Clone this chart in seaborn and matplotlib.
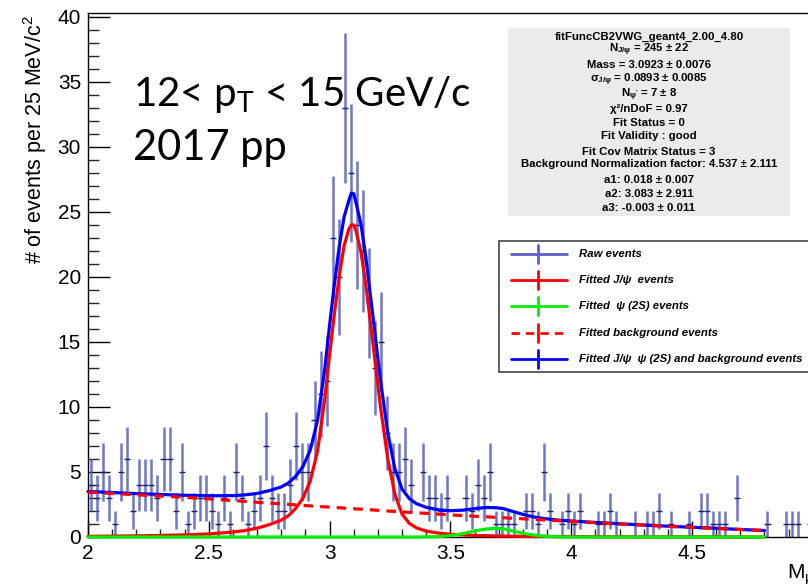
import numpy as np
import pandas as pd
import matplotlib
matplotlib.use("Agg")
import matplotlib.pyplot as plt
import seaborn as sns
from matplotlib.lines import Line2D
from matplotlib.patches import Rectangle
from matplotlib.ticker import MultipleLocator, FixedLocator

# ---------------- data ----------------
bin_low = 2.0
bin_width = 0.025
counts = [4, 3, 5, 3, 1, 5, 6, 2, 4, 4,
          4, 3, 6, 6, 2, 5, 1, 2, 3, 3,
          2, 1, 3, 1, 5, 3, 1, 2, 3, 7,
          3, 2, 2, 4, 7, 5, 5, 9, 11, 12,
          23, 20, 33, 28, 24, 22, 18, 13, 15, 8,
          5, 5, 6, 4, 0, 5, 3, 3, 2, 3,
          0, 0, 3, 2, 4, 3, 5, 1, 1, 1,
          1, 0, 2, 2, 1, 5, 2, 0, 1, 2,
          1, 2, 0, 0, 1, 1, 2, 1, 0, 0,
          1, 0, 1, 1, 2, 0, 1, 0, 0, 1,
          0, 2, 2, 1, 1, 1, 0, 3, 0, 0,
          0, 0, 1, 0, 0, 1, 1, 1, 0, 1]

curve_x = [2.00, 2.10, 2.20, 2.30, 2.40, 2.50, 2.60, 2.65, 2.70, 2.75,
           2.80, 2.83, 2.86, 2.89, 2.92, 2.95, 2.98, 3.00, 3.02, 3.04,
           3.06, 3.08, 3.09, 3.10, 3.11, 3.13, 3.15, 3.18, 3.21, 3.24,
           3.27, 3.30, 3.33, 3.36, 3.40, 3.45, 3.50, 3.55, 3.60, 3.65,
           3.69, 3.72, 3.75, 3.80, 3.85, 3.90, 3.95, 4.00, 4.10, 4.20,
           4.30, 4.40, 4.50, 4.60, 4.70, 4.80]
fit_jpsi = [0.05, 0.07, 0.09, 0.12, 0.16, 0.24, 0.38, 0.50, 0.68, 0.95,
            1.30, 1.65, 2.20, 3.00, 4.30, 6.60, 10.6, 14.0, 17.2, 20.1,
            22.4, 23.7, 24.0, 24.0, 23.5, 21.9, 19.4, 14.8, 10.1, 6.1,
            3.3, 1.75, 1.05, 0.70, 0.45, 0.30, 0.21, 0.16, 0.12, 0.10,
            0.08, 0.07, 0.06, 0.05, 0.04, 0.04, 0.03, 0.03, 0.02, 0.02,
            0.01, 0.01, 0.01, 0.01, 0.0, 0.0]
fit_psi2s = [0, 0, 0, 0, 0, 0, 0, 0, 0, 0,
             0, 0, 0, 0, 0, 0, 0, 0, 0, 0,
             0, 0, 0, 0, 0, 0, 0, 0, 0, 0,
             0, 0, 0, 0, 0.01, 0.03, 0.11, 0.25, 0.46, 0.62,
             0.66, 0.63, 0.50, 0.29, 0.13, 0.05, 0.01, 0.0, 0, 0,
             0, 0, 0, 0, 0, 0]
fit_bkg = [3.45, 3.35, 3.25, 3.15, 3.05, 2.93, 2.80, 2.74, 2.67, 2.61,
           2.55, 2.51, 2.47, 2.43, 2.39, 2.35, 2.32, 2.30, 2.27, 2.25,
           2.22, 2.20, 2.19, 2.18, 2.16, 2.14, 2.11, 2.08, 2.04, 2.00,
           1.97, 1.93, 1.90, 1.86, 1.82, 1.76, 1.70, 1.65, 1.60, 1.55,
           1.51, 1.48, 1.45, 1.40, 1.35, 1.30, 1.25, 1.20, 1.10, 1.00,
           0.91, 0.82, 0.74, 0.66, 0.58, 0.50]
fit_total = [3.50, 3.42, 3.34, 3.27, 3.21, 3.17, 3.18, 3.24, 3.35, 3.56,
             3.85, 4.16, 4.67, 5.43, 6.69, 8.95, 12.92, 16.30, 19.47, 22.35,
             24.62, 25.90, 26.45, 26.40, 25.66, 24.04, 21.51, 16.88, 12.14, 8.10,
             5.27, 3.68, 2.95, 2.56, 2.28, 2.09, 2.02, 2.06, 2.18, 2.27,
             2.25, 2.18, 2.01, 1.74, 1.52, 1.39, 1.29, 1.23, 1.12, 1.02,
             0.92, 0.83, 0.75, 0.67, 0.58, 0.50]

x_ticks = [2, 2.5, 3, 3.5, 4, 4.5, 5]
x_tick_labels = ["2", "2.5", "3", "3.5", "4", "4.5", ""]
y_ticks = [0, 5, 10, 15, 20, 25, 30, 35, 40]

stats_lines = ["fitFuncCB2VWG_geant4_2.00_4.80",
               "N$_{J/ψ}$ = 245 ± 22",
               "Mass = 3.0923 ± 0.0076",
               "σ$_{J/ψ}$ = 0.0893 ± 0.0085",
               "N$_{ψ'}$ = 7 ± 8",
               "χ²/nDoF = 0.97",
               "Fit Status = 0",
               "Fit Validity : good",
               "Fit Cov Matrix Status = 3",
               "Background Normalization factor: 4.537 ± 2.111",
               "a1: 0.018 ± 0.007",
               "a2: 3.083 ± 2.911",
               "a3: -0.003 ± 0.011"]
stats_y = [37, 50, 65.5, 79.5, 94.5, 108.5, 123, 136, 152, 164, 180, 194, 208]

legend_labels = ["Raw events",
                 "Fitted J/ψ  events",
                 "Fitted  ψ (2S) events",
                 "Fitted background events",
                 "Fitted J/ψ  ψ (2S) and background events"]

# ---------------- styling ----------------
sns.set_theme(style="ticks")
plt.rcParams['font.family'] = ['Liberation Sans', 'DejaVu Sans']
plt.rcParams['mathtext.default'] = 'regular'

W, H = 808, 584
fig = plt.figure(figsize=(W / 100, H / 100), dpi=100)
fig.patch.set_facecolor('white')


def fx(p):
    return p / W


def fy(p):
    return 1 - p / H


PT = 100 / 72.0  # px per pt
ax_l, ax_r, ax_t, ax_b = 88, 812.8, 13, 537
ax = fig.add_axes([fx(ax_l), fy(ax_b), (ax_r - ax_l) / W, (ax_b - ax_t) / H])
ax.set_facecolor('white')
ax.set_xlim(2, 5)
ax.set_ylim(0, 40.3)

# data points with error bars
centers = bin_low + bin_width * (np.arange(len(counts)) + 0.5)
df = pd.DataFrame({'x': centers, 'n': counts})
df = df[df.n > 0]
ax.errorbar(df.x, df.n, yerr=np.sqrt(df.n), fmt='none', ecolor='#4a54c0',
            elinewidth=1.8, alpha=0.8, zorder=2)
ax.errorbar(df.x, df.n, xerr=bin_width / 2, fmt='none', ecolor='#20206e',
            elinewidth=1.0, zorder=2)

curves = pd.DataFrame({'x': curve_x, 'jpsi': fit_jpsi, 'psi2s': fit_psi2s,
                       'bkg': fit_bkg, 'total': fit_total})
sns.lineplot(data=curves, x='x', y='total', ax=ax, color='#0000ff', lw=2.3,
             sort=False, estimator=None, zorder=3)
sns.lineplot(data=curves, x='x', y='jpsi', ax=ax, color='#ff0000', lw=2.3,
             sort=False, estimator=None, zorder=4)
sns.lineplot(data=curves, x='x', y='bkg', ax=ax, color='#ff0000', lw=2.3,
             linestyle=(0, (3, 2.2)), sort=False, estimator=None, zorder=5)
sns.lineplot(data=curves, x='x', y='psi2s', ax=ax, color='#00ee00', lw=2.3,
             sort=False, estimator=None, zorder=6)
for ln in ax.lines:
    ln.set_clip_on(False)

# axes / ticks
for s in ['top', 'right', 'left', 'bottom']:
    ax.spines[s].set_color('black')
    ax.spines[s].set_linewidth(1.0)
ax.xaxis.set_major_locator(FixedLocator(x_ticks))
ax.set_xticklabels(x_tick_labels)
ax.xaxis.set_minor_locator(MultipleLocator(0.1))
ax.yaxis.set_major_locator(FixedLocator(y_ticks))
ax.yaxis.set_minor_locator(MultipleLocator(1))
ax.tick_params(axis='x', which='major', direction='in', length=16 / PT, width=1,
               labelsize=15, pad=5, colors='black')
ax.tick_params(axis='x', which='minor', direction='in', length=8 / PT, width=1)
ax.tick_params(axis='y', which='major', direction='in', length=22 / PT, width=1,
               labelsize=15, pad=5, colors='black')
ax.tick_params(axis='y', which='minor', direction='in', length=11 / PT, width=1)
ax.set_xlabel('')
ax.set_ylabel('')

fig.text(fx(35), fy(15), "# of events per 25 MeV/c$^{2}$", rotation=90,
         ha='center', va='top', fontsize=15.5, color='black')
fig.text(fx(787), fy(579), "M$_{μμ}$ (GeV/c$^{2}$)", ha='left', va='baseline',
         fontsize=15, color='black')

# overlay text
fig.text(fx(133), fy(106), "12< p$_{T}$ < 15 GeV/c", ha='left', va='baseline',
         fontsize=29, family=['Lato', 'DejaVu Sans'], color='black')
fig.text(fx(133), fy(160), "2017 pp", ha='left', va='baseline',
         fontsize=30, family=['Lato', 'DejaVu Sans'], color='black')

# stats box
sax = fig.add_axes([fx(508), fy(216), (790 - 508) / W, (216 - 28) / H])
sax.set_facecolor('#ebebeb')
sax.set_xticks([]); sax.set_yticks([])
for s in sax.spines.values():
    s.set_visible(False)
for t, yy in zip(stats_lines, stats_y):
    fig.text(fx(649), fy(yy), t, ha='center', va='center', fontsize=8.2,
             fontweight='bold', color='black')

# legend box
lax = fig.add_axes([0, 0, 1, 1], facecolor='none')
lax.set_xlim(0, W); lax.set_ylim(H, 0)
lax.axis('off')
lax.add_patch(Rectangle((499, 241), 340, 131, facecolor='white',
                        edgecolor='#444444', lw=1.2, clip_on=False))
leg_y = [254, 280, 306, 333, 359]
leg_colors = ['#5a60c8', '#ff0000', '#00ee00', '#ff0000', '#0000ff']
leg_styles = ['-', '-', '-', (0, (3, 2.2)), '-']
for lab, yy, c, st in zip(legend_labels, leg_y, leg_colors, leg_styles):
    lax.add_line(Line2D([511, 567], [yy, yy], color=c, lw=2.0, linestyle=st))
    lax.add_line(Line2D([538, 538], [yy - 9, yy + 9], color=c, lw=2.0))
    lax.text(579, yy, lab, ha='left', va='center', fontsize=8.2,
             fontweight='bold', style='italic', color='black')

fig.savefig('out.png', dpi=100)
